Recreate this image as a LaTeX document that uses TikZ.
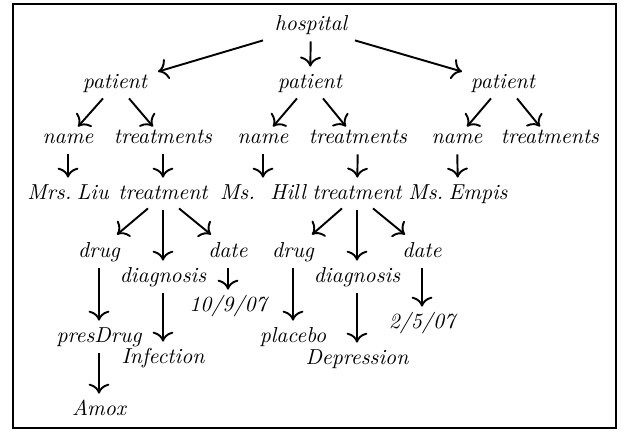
\documentclass[tikz,border=0pt]{standalone}
\usetikzlibrary{arrows.meta,calc}
\begin{document}
\begin{tikzpicture}[x=0.0165cm,y=-0.0165cm,
  lbl/.style={font=\fontsize{10.15}{12}\selectfont\itshape, inner sep=3pt, text height=7pt, text depth=2pt},
  arr/.style={-{To[scale=1.3]}, line width=0.9pt}]
\useasboundingbox (0,0) rectangle (621,431);
\draw[line width=0.5pt] (13,4) rectangle (616,428);
\node[lbl] (h) at (311,25) {hospital};
\node[lbl] (p1) at (115,83) {patient};
\node[lbl] (p2) at (310,83) {patient};
\node[lbl] (p3) at (503,83) {patient};
\node[lbl] (n1) at (68,138) {name};
\node[lbl] (ts1) at (163,138) {treatments};
\node[lbl] (n2) at (263,138) {name};
\node[lbl] (ts2) at (358,138) {treatments};
\node[lbl] (n3) at (457,138) {name};
\node[lbl] (ts3) at (550,138) {treatments};
\node[lbl] (liu) at (68,194) {Mrs.\hspace{0.25em}Liu};
\node[lbl] (t1) at (163,194) {treatment};
\node[lbl] (hill) at (263,194) {Ms.\ \ Hill};
\node[lbl] (t2) at (357,194) {treatment};
\node[lbl] (empis) at (458,194) {Ms.\hspace{0.25em}Empis};
\node[lbl] (dr1) at (99,252) {drug};
\node[lbl] (dg1) at (163,277) {diagnosis};
\node[lbl] (da1) at (228,252) {date};
\node[lbl] (dv1) at (228,306) {10/9/07};
\node[lbl] (pd) at (99,337) {presDrug};
\node[lbl] (inf) at (163,358) {Infection};
\node[lbl] (amox) at (99,410) {Amox};
\node[lbl] (dr2) at (293,252) {drug};
\node[lbl] (dg2) at (357,277) {diagnosis};
\node[lbl] (da2) at (422,252) {date};
\node[lbl] (dv2) at (422,323) {2/5/07};
\node[lbl] (plc) at (293,337) {placebo};
\node[lbl] (dep) at (357,359) {Depression};
% diagonal connectors
\draw[arr] ($(h.south)+(-48,-1)$) -- ($(p1.north)+(43,5)$);
\draw[arr] ($(h.south)+(44,-1)$) -- ($(p3.north)+(-41,5)$);
\draw[arr] ($(p1.south)+(-12,-1)$) -- ($(n1.north)+(10,5)$);
\draw[arr] ($(p1.south)+(14,-1)$) -- ($(ts1.north)+(-10,5)$);
\draw[arr] ($(p2.south)+(-13,-1)$) -- ($(n2.north)+(10,5)$);
\draw[arr] ($(p2.south)+(13,-1)$) -- ($(ts2.north)+(-12,5)$);
\draw[arr] ($(p3.south)+(-12,-1)$) -- ($(n3.north)+(10,5)$);
\draw[arr] ($(p3.south)+(14,-1)$) -- ($(ts3.north)+(-10,5)$);
\draw[arr] ($(t1.south)+(-15,-2)$) -- ($(dr1.north)+(18,-1)$);
\draw[arr] ($(t1.south)+(16,-2)$) -- ($(da1.north)+(-17,-1)$);
\draw[arr] ($(t2.south)+(-15,-2)$) -- ($(dr2.north)+(19,-1)$);
\draw[arr] ($(t2.south)+(16,-2)$) -- ($(da2.north)+(-17,-1)$);
% vertical connectors
\foreach \a/\b in {h/p2,n1/liu,ts1/t1,n2/hill,ts2/t2,n3/empis,t1/dg1,da1/dv1,
  dr1/pd,dg1/inf,pd/amox,t2/dg2,da2/dv2,dr2/plc,dg2/dep}
  \draw[arr] (\a) -- (\b);
\end{tikzpicture}
\end{document}
